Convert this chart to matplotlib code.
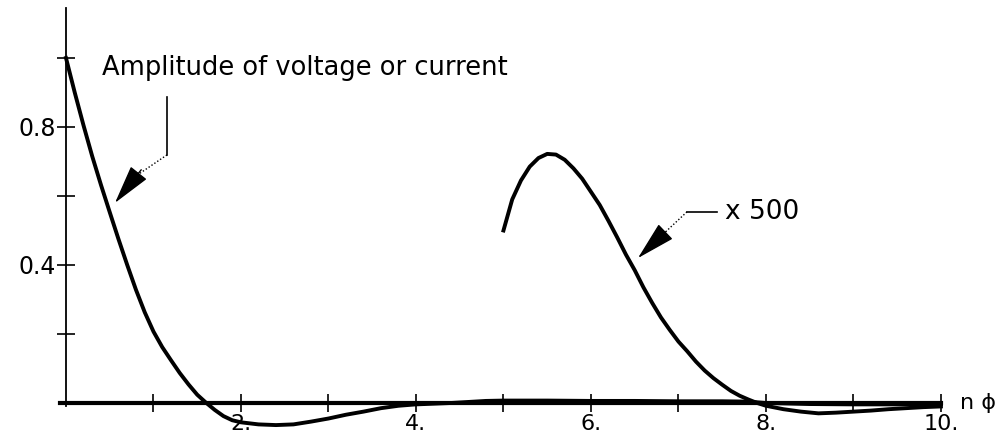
import matplotlib
matplotlib.use("Agg")
import matplotlib.pyplot as plt

# ---- data ----
amp_x = [0.0, 0.1, 0.2, 0.3, 0.4, 0.5, 0.6, 0.7, 0.8, 0.9, 1.0, 1.1, 1.2, 1.3,
         1.4, 1.5, 1.6, 1.7, 1.8, 1.9, 2.0, 2.2, 2.4, 2.6, 2.8, 3.0, 3.2, 3.4,
         3.6, 3.8, 4.0, 4.2, 4.4, 4.6, 4.8, 5.0, 5.5, 6.0, 6.5, 7.0, 7.5, 7.8,
         8.0, 8.5, 9.0, 9.5, 10.0]
amp_y = [1.00, 0.90, 0.805, 0.715, 0.632, 0.553, 0.475, 0.40, 0.328, 0.263,
         0.207, 0.162, 0.124, 0.087, 0.054, 0.024, 0.001, -0.020, -0.038,
         -0.050, -0.056, -0.062, -0.064, -0.062, -0.054, -0.045, -0.034,
         -0.025, -0.015, -0.008, -0.004, -0.002, 0.000, 0.003, 0.006, 0.007,
         0.007, 0.006, 0.006, 0.005, 0.005, 0.004, 0.000, -0.003, -0.004,
         -0.004, -0.003]

mag_x = [5.0, 5.1, 5.2, 5.3, 5.4, 5.5, 5.6, 5.7, 5.8, 5.9, 6.0, 6.1, 6.2, 6.3,
         6.4, 6.5, 6.6, 6.7, 6.8, 6.9, 7.0, 7.1, 7.2, 7.3, 7.4, 7.5, 7.6, 7.7,
         7.8, 7.9, 8.0, 8.2, 8.4, 8.6, 8.8, 9.0, 9.2, 9.4, 9.6, 9.8, 10.0]
mag_y = [0.50, 0.59, 0.645, 0.685, 0.71, 0.722, 0.72, 0.705, 0.68, 0.65, 0.612,
         0.574, 0.528, 0.48, 0.43, 0.385, 0.335, 0.29, 0.248, 0.212, 0.178,
         0.15, 0.12, 0.094, 0.072, 0.053, 0.035, 0.021, 0.010, 0.0, -0.008,
         -0.018, -0.025, -0.030, -0.028, -0.025, -0.022, -0.018, -0.015,
         -0.012, -0.010]

x_ticks = [1, 2, 3, 4, 5, 6, 7, 8, 9, 10]
x_tick_labels = ["", "2.", "", "4.", "", "6.", "", "8.", "", "10."]
y_ticks = [0.2, 0.4, 0.6, 0.8, 1.0]
y_tick_labels = ["", "0.4", "", "0.8", ""]

label_amp = "Amplitude of voltage or current"
label_mag = "x 500"
axis_label = "n \u03d5"

# ---- figure ----
fig = plt.figure(figsize=(10.01, 4.37), dpi=100)
ax = fig.add_axes([0.0598, 0.01465, 0.8802, 0.9711])
ax.set_xlim(-0.07, 10.0)
ax.set_ylim(-0.08, 1.15)

for s in ("top", "right"):
    ax.spines[s].set_visible(False)
ax.spines["left"].set_position(("data", 0))
ax.spines["bottom"].set_position(("data", 0))
ax.spines["left"].set_bounds(-0.01, 1.145)
ax.spines["bottom"].set_bounds(-0.07, 10.0)
ax.spines["left"].set_linewidth(1.3)
ax.spines["bottom"].set_linewidth(3.0)
ax.patch.set_visible(False)

ax.set_xticks(x_ticks, labels=x_tick_labels)
ax.set_yticks(y_ticks, labels=y_tick_labels)
ax.tick_params(axis="both", direction="inout", length=12.5, width=1.2,
               colors="black")
ax.tick_params(axis="x", pad=1.5, labelsize=16)
ax.tick_params(axis="y", pad=1, labelsize=17)

ax.plot(amp_x, amp_y, color="black", lw=2.8, clip_on=False,
        solid_joinstyle="round")
ax.plot(mag_x, mag_y, color="black", lw=2.8, clip_on=False,
        solid_joinstyle="round")

# axis label at the end of the x axis
ax.text(10.22, 0.0, axis_label, fontsize=16, va="center", ha="left")

# annotation 1
ax.text(0.41, 0.951, label_amp, fontsize=18.5, va="baseline", ha="left")
ax.plot([1.154, 1.154], [0.887, 0.719], color="black", lw=1.2)
ax.plot([1.154, 0.80], [0.719, 0.658], color="black", lw=1.0, ls=(0, (1, 1.5)))
ax.annotate("", xy=(0.56, 0.580), xytext=(0.86, 0.676),
            arrowprops=dict(arrowstyle="-|>,head_length=25,head_width=6.5",
                            mutation_scale=1, color="black", lw=1.0,
                            shrinkA=0, shrinkB=0))

# annotation 2
ax.text(7.53, 0.554, label_mag, fontsize=19, va="center", ha="left")
ax.plot([7.44, 7.097], [0.554, 0.554], color="black", lw=1.2)
ax.plot([7.097, 6.76], [0.554, 0.474], color="black", lw=1.0, ls=(0, (1, 1.5)))
ax.annotate("", xy=(6.537, 0.420), xytext=(6.85, 0.496),
            arrowprops=dict(arrowstyle="-|>,head_length=25,head_width=6.5",
                            mutation_scale=1, color="black", lw=1.0,
                            shrinkA=0, shrinkB=0))

fig.savefig("out.png", dpi=100)
